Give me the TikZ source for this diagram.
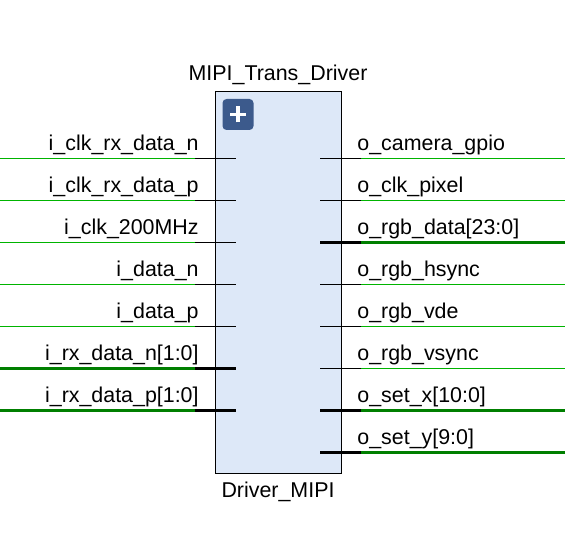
\documentclass[tikz,border=0pt]{standalone}
\usepackage{fontspec}
\setmainfont{Liberation Sans}
\definecolor{wiregreen}{HTML}{00B400}
\definecolor{busgreen}{HTML}{007F00}
\definecolor{blockfill}{HTML}{DDE8F8}
\definecolor{iconblue}{HTML}{3C5A8C}

\begin{document}
\begin{tikzpicture}[x=0.5pt, y=-0.5pt, font=\fontsize{10.7}{13}\selectfont,
        wire/.style={line width=0.5pt, wiregreen},
        bus/.style={line width=1.5pt, busgreen}]
        \useasboundingbox (0,0) rectangle (565,534);

        \node (block) at (278,282.5)[draw=black, line width=0.5pt, fill=blockfill, minimum width=63pt, minimum height=190.5pt, inner sep=0pt] {};

        \node (title) at (278,81)[anchor=base, inner sep=0pt] {MIPI\_Trans\_Driver};

        \node (name) at (278,497)[anchor=base, inner sep=0pt] {Driver\_MIPI};

        \node (expand) at (238,114.5)[fill=iconblue, rounded corners=2pt, minimum size=15.5pt, inner sep=0pt] {};
        \draw[white, line width=1.8pt] ([xshift=-4pt]expand.center) -- ([xshift=4pt]expand.center);
        \draw[white, line width=1.8pt] ([yshift=-4pt]expand.center) -- ([yshift=4pt]expand.center);

        % inputs
        \foreach \pinname/\y/\kind [count=\i] in {i\_clk\_rx\_data\_n/158/wire, i\_clk\_rx\_data\_p/200/wire, i\_clk\_200MHz/242/wire, i\_data\_n/284/wire, i\_data\_p/326/wire, i\_rx\_data\_n[1:0]/368/bus, i\_rx\_data\_p[1:0]/410/bus} {
            \coordinate (lend\i) at (0,\y);
            \coordinate (ljoin\i) at (195,\y);
            \coordinate (lpin\i) at (236,\y);
            \draw[\kind] (lend\i) -- (ljoin\i);
            \draw[\kind, black] (ljoin\i) -- (lpin\i);
            \node (llabel\i) at (199,\y-8)[anchor=base east, inner sep=0pt] {\pinname};
        }

        % outputs
        \foreach \pinname/\y/\kind [count=\i] in {o\_camera\_gpio/158/wire, o\_clk\_pixel/200/wire, o\_rgb\_data[23:0]/242/bus, o\_rgb\_hsync/284/wire, o\_rgb\_vde/326/wire, o\_rgb\_vsync/368/wire, o\_set\_x[10:0]/410/bus, o\_set\_y[9:0]/452/bus} {
            \coordinate (rpin\i) at (320,\y);
            \coordinate (rjoin\i) at (361,\y);
            \coordinate (rend\i) at (565,\y);
            \draw[\kind, black] (rpin\i) -- (rjoin\i);
            \draw[\kind] (rjoin\i) -- (rend\i);
            \node (rlabel\i) at (357,\y-8)[anchor=base west, inner sep=0pt] {\pinname};
        }
    \end{tikzpicture}
\end{document}
